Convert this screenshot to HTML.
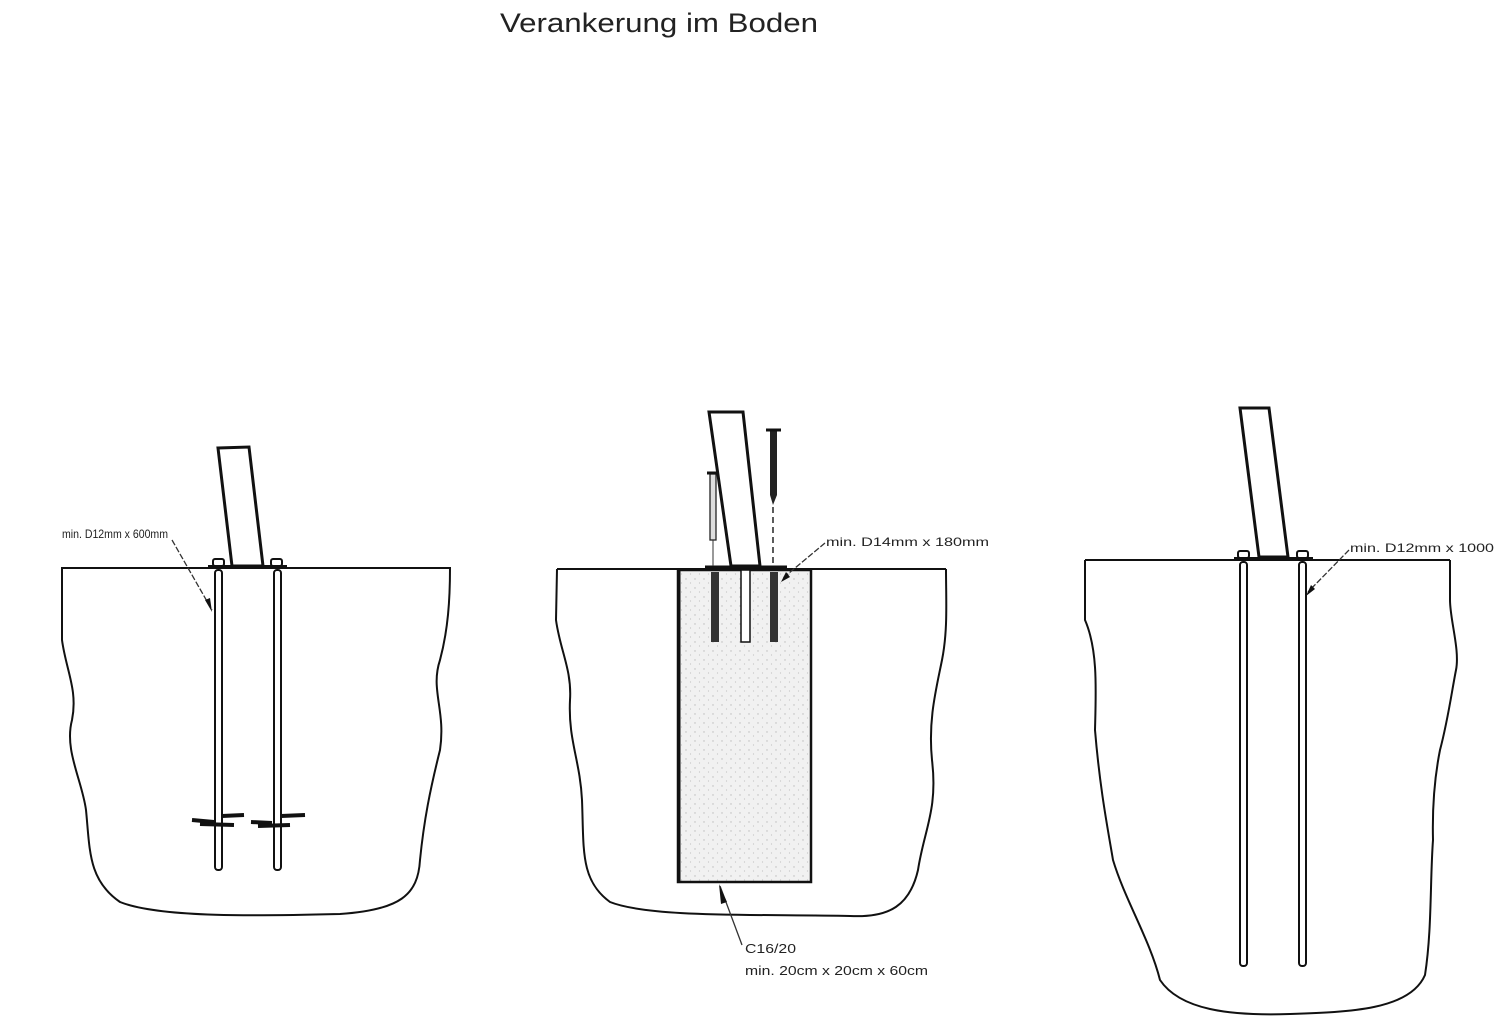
<!DOCTYPE html>
<html><head><meta charset="utf-8"><style>
html,body{margin:0;padding:0;background:#fff;}
svg{display:block;}
text{font-family:"Liberation Sans","DejaVu Sans",sans-serif;fill:#222;}
</style></head><body>
<svg width="1500" height="1026" viewBox="0 0 1500 1026" xmlns="http://www.w3.org/2000/svg">
<defs>
<pattern id="dots" width="9" height="9" patternUnits="userSpaceOnUse">
<rect width="9" height="9" fill="#f1f1f1"/>
<circle cx="2" cy="3" r="0.7" fill="#bbb"/><circle cx="6.5" cy="7" r="0.6" fill="#c4c4c4"/>
</pattern>
</defs>
<text x="500" y="32" font-size="27" fill="#333" textLength="318" lengthAdjust="spacingAndGlyphs">Verankerung im Boden</text>

<g fill="none" stroke="#111" stroke-width="2">
<path d="M62,568 L62,640 C66,670 78,690 72,720 C64,750 82,780 86,810 C90,850 88,880 120,902 C160,918 260,916 340,914 C400,910 418,895 420,860 C424,820 430,790 440,750 C446,710 430,690 440,660 C448,630 450,600 450,568 Z"/>
<path d="M62,568 L450,568"/>
</g>
<polygon points="218,448 249,447 263,566 232,566" fill="#fff" stroke="#111" stroke-width="3"/>
<line x1="208" y1="567" x2="287" y2="567" stroke="#111" stroke-width="4"/>
<g fill="#fff" stroke="#111" stroke-width="2">
<rect x="215" y="570" width="7" height="300" rx="3"/>
<rect x="274" y="570" width="7" height="300" rx="3"/>
<rect x="213" y="559" width="11" height="7" rx="2"/>
<rect x="271" y="559" width="11" height="7" rx="2"/>
</g>
<g stroke="#111" stroke-width="4">
<line x1="192" y1="820" x2="214" y2="822"/><line x1="222" y1="816" x2="244" y2="815"/><line x1="200" y1="824" x2="234" y2="825"/>
<line x1="251" y1="822" x2="272" y2="823"/><line x1="281" y1="816" x2="305" y2="815"/><line x1="258" y1="826" x2="290" y2="825"/>
</g>
<path d="M172,540 L212,610" stroke="#333" stroke-width="1.3" stroke-dasharray="6,2" fill="none"/>
<polygon points="212,612 205,600 210,598" fill="#111"/>
<text x="62" y="538" font-size="12" textLength="106" lengthAdjust="spacingAndGlyphs">min. D12mm x  600mm</text>

<g fill="none" stroke="#111" stroke-width="2">
<path d="M557,569 L556,620 C560,650 572,670 570,700 C568,740 580,760 582,800 C584,850 580,880 610,902 C650,918 760,914 850,916 C890,918 910,905 918,870 C924,830 938,810 932,760 C928,720 936,690 942,660 C948,630 946,600 946,569"/>
<path d="M557,569 L946,569"/>
</g>
<rect x="678" y="570" width="133" height="312" fill="url(#dots)" stroke="#111" stroke-width="2.5"/>
<line x1="679" y1="570" x2="679" y2="882" stroke="#111" stroke-width="3"/>
<rect x="741" y="570" width="9" height="72" fill="#fff" stroke="#111" stroke-width="1.5"/>
<rect x="711" y="572" width="8" height="70" fill="#333"/>
<rect x="770" y="572" width="8" height="70" fill="#333"/>
<polygon points="709,412 743,412 760,566 731,566" fill="#fff" stroke="#111" stroke-width="3"/>
<line x1="705" y1="567" x2="787" y2="567" stroke="#111" stroke-width="3"/>
<rect x="710" y="474" width="6" height="66" fill="#ddd" stroke="#222" stroke-width="1.3"/>
<line x1="707" y1="473" x2="719" y2="473" stroke="#111" stroke-width="3"/>
<line x1="713" y1="540" x2="713" y2="566" stroke="#333" stroke-width="1"/>
<rect x="770" y="431" width="7" height="64" fill="#222"/>
<polygon points="770,495 777,495 773,505" fill="#222"/>
<line x1="766" y1="430" x2="781" y2="430" stroke="#111" stroke-width="3"/>
<line x1="773" y1="507" x2="773" y2="566" stroke="#333" stroke-width="1.6" stroke-dasharray="6,4"/>
<path d="M825,543 L783,578" stroke="#333" stroke-width="1.3" stroke-dasharray="6,2" fill="none"/>
<polygon points="781,582 786,572 790,577" fill="#111"/>
<text x="826" y="546" font-size="12" textLength="163" lengthAdjust="spacingAndGlyphs">min. D14mm x 180mm</text>
<path d="M720,886 L742,945" stroke="#333" stroke-width="1.3" fill="none"/>
<polygon points="719,884 727,902 721,904" fill="#111"/>
<text x="745" y="953" font-size="13" textLength="51" lengthAdjust="spacingAndGlyphs">C16/20</text>
<text x="745" y="975" font-size="13" textLength="183" lengthAdjust="spacingAndGlyphs">min. 20cm x 20cm x 60cm</text>

<g fill="none" stroke="#111" stroke-width="2">
<path d="M1085,560 L1085,620 C1098,650 1096,690 1095,730 C1100,790 1108,830 1113,860 C1125,900 1150,940 1160,980 C1180,1010 1230,1016 1290,1014 C1350,1012 1410,1010 1425,975 C1432,930 1430,880 1433,840 C1432,800 1436,770 1440,750 C1448,720 1452,690 1456,670 C1460,650 1450,620 1450,600 L1450,560"/>
<path d="M1085,560 L1450,560"/>
</g>
<polygon points="1240,408 1269,408 1288,557 1259,557" fill="#fff" stroke="#111" stroke-width="3"/>
<line x1="1234" y1="559" x2="1313" y2="559" stroke="#111" stroke-width="4"/>
<g fill="#fff" stroke="#111" stroke-width="2">
<rect x="1240" y="562" width="7" height="404" rx="3"/>
<rect x="1299" y="562" width="7" height="404" rx="3"/>
<rect x="1238" y="551" width="11" height="7" rx="2"/>
<rect x="1297" y="551" width="11" height="7" rx="2"/>
</g>
<path d="M1349,550 L1308,592" stroke="#333" stroke-width="1.3" stroke-dasharray="6,2" fill="none"/>
<polygon points="1306,596 1311,585 1315,589" fill="#111"/>
<text x="1350" y="552" font-size="12" textLength="144" lengthAdjust="spacingAndGlyphs">min. D12mm x 1000</text>
</svg>
</body></html>
